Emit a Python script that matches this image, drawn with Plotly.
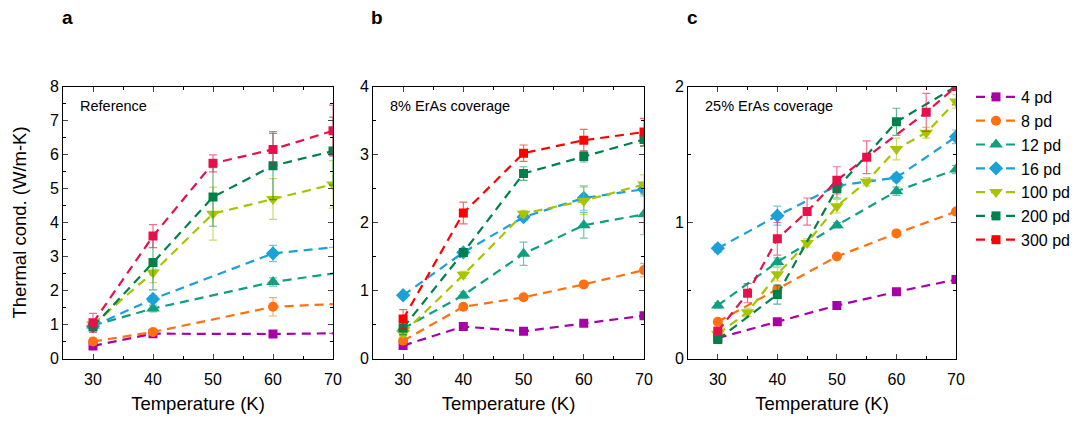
import plotly.graph_objects as go
from plotly.subplots import make_subplots

names = ['4 pd', '8 pd', '12 pd', '16 pd', '100 pd', '200 pd', '300 pd']
colors = ['#a800a8', '#ff7010', '#10a080', '#1ba0d8', '#a8c400', '#00804a', '#ff0000']
colors_ac = ['#a800a8', '#ff7010', '#10a080', '#1ba0d8', '#a8c400', '#00804a', '#e8104a']
symbols = ['square', 'circle', 'triangle-up', 'diamond', 'triangle-down', 'square', 'square']
msizes = [9, 10, 12, 11, 12, 9, 9]

T5 = [30, 40, 50, 60, 70]
T9 = [30, 35, 40, 45, 50, 55, 60, 65, 70]

# panel a: Reference  (temps, values, errors, marker shown)
a_T = [[30, 40, 60, 70], [30, 40, 60, 70], [30, 40, 60, 70], [30, 40, 60, 70], T5, T5, T5]
a_val = [
    [0.37, 0.73, 0.72, 0.74],
    [0.50, 0.78, 1.52, 1.60],
    [0.97, 1.47, 2.25, 2.50],
    [0.95, 1.75, 3.09, 3.27],
    [1.00, 2.53, 4.26, 4.69, 5.12],
    [0.93, 2.82, 4.75, 5.67, 6.10],
    [1.05, 3.60, 5.74, 6.15, 6.70],
]
a_err = [
    [0.05, 0.05, None, None],
    [0.10, 0.08, 0.27, None],
    [0.10, 0.10, 0.12, None],
    [0.08, 0.10, 0.24, None],
    [0.10, 0.30, 0.78, 0.60, 0.70],
    [0.10, 0.80, 0.86, 1.00, 1.00],
    [0.28, 0.34, 0.25, 0.47, 0.75],
]
a_mark = [
    [1, 1, 1, 0], [1, 1, 1, 0], [1, 1, 1, 0], [1, 1, 1, 0],
    [1, 1, 1, 1, 1], [1, 1, 1, 1, 1], [1, 1, 1, 1, 1],
]

# panel b: 8% ErAs coverage
b_T = [T5] * 7
b_val = [
    [0.19, 0.47, 0.40, 0.52, 0.63],
    [0.26, 0.76, 0.90, 1.09, 1.30],
    [0.44, 0.93, 1.54, 1.96, 2.12],
    [0.93, 1.56, 2.08, 2.36, 2.49],
    [0.37, 1.23, 2.13, 2.32, 2.56],
    [0.45, 1.56, 2.72, 2.97, 3.22],
    [0.58, 2.14, 3.02, 3.21, 3.33],
]
b_err = [
    [0.03, 0.03, 0.03, 0.03, 0.03],
    [0.03, 0.03, 0.03, 0.03, 0.10],
    [0.10, 0.05, 0.17, 0.19, 0.30],
    [0.03, 0.05, 0.05, 0.18, 0.10],
    [0.05, 0.05, 0.05, 0.20, 0.14],
    [0.10, 0.05, 0.10, 0.08, 0.10],
    [0.14, 0.16, 0.12, 0.16, 0.20],
]
b_mark = [[1] * 5] * 7

# panel c: 25% ErAs coverage
c_T = [T5, T5, T5, T5, T9, T5, [30, 35, 40, 45, 50, 55, 65, 70]]
c_val = [
    [0.15, 0.27, 0.39, 0.49, 0.58],
    [0.27, 0.51, 0.75, 0.92, 1.08],
    [0.39, 0.71, 0.98, 1.23, 1.39],
    [0.81, 1.05, 1.27, 1.33, 1.63],
    [0.18, 0.34, 0.62, 0.85, 1.12, 1.30, 1.54, 1.66, 1.89],
    [0.14, 0.47, 1.25, 1.74, 2.00],
    [0.20, 0.48, 0.88, 1.08, 1.31, 1.48, 1.81, 2.00],
]
c_err = [
    [None, None, None, None, None],
    [None, None, None, None, None],
    [0.02, 0.03, 0.02, 0.03, 0.03],
    [0.03, 0.07, 0.03, 0.03, 0.05],
    [0.03, 0.03, 0.05, 0.03, 0.05, 0.03, 0.08, 0.04, 0.05],
    [0.02, 0.07, 0.07, 0.10, None],
    [0.03, 0.07, 0.12, 0.10, 0.10, 0.12, 0.14, None],
]
c_mark = [[1] * len(t) for t in c_T]

panels = [
    (a_T, a_val, a_err, a_mark, colors_ac, 'Reference', [0, 8]),
    (b_T, b_val, b_err, b_mark, colors, '8% ErAs coverage', [0, 4]),
    (c_T, c_val, c_err, c_mark, colors_ac, '25% ErAs coverage', [0, 2]),
]

# page body has an 8px margin, so the figure is 8px smaller and offset
W, H, OFF = 1075, 415, 8


def px(x):
    return (x - OFF) / W


def py(y):
    return 1 - (y - OFF) / H


def rgba(hexcol, a):
    h = hexcol.lstrip('#')
    return 'rgba(%d,%d,%d,%.2f)' % (int(h[0:2], 16), int(h[2:4], 16), int(h[4:6], 16), a)


fig = make_subplots(rows=1, cols=3)
font = 'Liberation Sans, Arial, sans-serif'

for ip, (Ts, vals, errs, marks, cols, label, yr) in enumerate(panels):
    for i in range(7):
        sizes = [msizes[i] if m else 0 for m in marks[i]]
        fig.add_trace(go.Scatter(
            x=Ts[i], y=vals[i], mode='lines+markers', name=names[i],
            legendgroup=names[i], showlegend=(ip == 1),
            line=dict(color=cols[i], width=2.2, dash='9px,6px'),
            marker=dict(symbol=symbols[i], size=sizes, color=cols[i], opacity=1,
                        line=dict(width=0)),
            error_y=dict(type='data', array=errs[i], visible=True, color=rgba(cols[i], 0.6),
                         thickness=1.2, width=4),
        ), row=1, col=ip + 1)

doms = [[63, 333], [373, 644], [688, 956]]
for ip in range(3):
    yr = panels[ip][6]
    xa = 'xaxis' if ip == 0 else 'xaxis%d' % (ip + 1)
    ya = 'yaxis' if ip == 0 else 'yaxis%d' % (ip + 1)
    fig.layout[xa].update(
        domain=[px(doms[ip][0]), px(doms[ip][1])], range=[25, 70], dtick=10, tick0=30,
        ticks='inside', ticklen=5, ticklabelstandoff=6,
        mirror='allticks', showline=True, linecolor='black', linewidth=1, showgrid=False,
        zeroline=False, tickfont=dict(size=16, color='black'), automargin=False,
        minor=dict(ticks='inside', dtick=5, tick0=25, ticklen=3, tickcolor='black'),
        title=dict(text='Temperature (K)', font=dict(size=18.5, color='black'), standoff=10),
    )
    fig.layout[ya].update(
        domain=[py(358.5), py(86.5)], range=yr, dtick=1, ticks='inside', ticklen=5,
        mirror='allticks', showline=True, linecolor='black', linewidth=1, showgrid=False,
        zeroline=False, tickfont=dict(size=16, color='black'), automargin=False,
        minor=dict(ticks='inside', dtick=0.5, ticklen=3, tickcolor='black'),
    )
    fig.add_annotation(text=panels[ip][5], xref='paper', yref='paper',
                       x=px(doms[ip][0] + 15), y=py(106), xanchor='left', yanchor='middle',
                       showarrow=False, font=dict(size=14.5, color='black'))
    fig.add_annotation(text='<b>' + 'abc'[ip] + '</b>', xref='paper', yref='paper',
                       x=px(doms[ip][0] + 4), y=py(17), xanchor='center', yanchor='middle',
                       showarrow=False, font=dict(size=19, color='black'))

fig.layout.yaxis.title = dict(text='Thermal cond. (W/m-K)', font=dict(size=18.5, color='black'),
                              standoff=18)

fig.update_layout(
    width=W, height=H, margin=dict(l=0, r=0, t=0, b=0),
    paper_bgcolor='white', plot_bgcolor='white',
    font=dict(family=font, color='black'),
    legend=dict(x=px(971), y=py(80), xanchor='left', yanchor='top',
                font=dict(size=16), bgcolor='rgba(0,0,0,0)', itemwidth=40, tracegroupgap=0),
)

fig.write_html('out.html')
